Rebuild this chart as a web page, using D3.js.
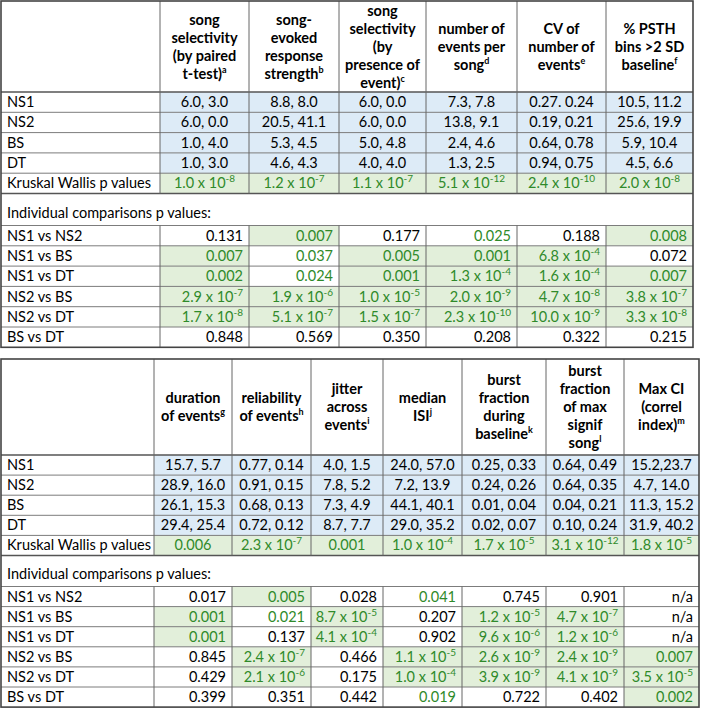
<!DOCTYPE html>
<html>
<head>
<meta charset="utf-8">
<title>Response properties tables</title>
<script src="https://cdn.jsdelivr.net/npm/d3@7"></script>
<style>
  body { margin: 0; background: #fff; }
  svg { display: block; font-family: Lato, "Open Sans", sans-serif; font-size: 14.5px; }
</style>
</head>
<body>
<svg id="chart" width="701" height="712"></svg>
<script>
// row labels
var groups = ["NS1", "NS2", "BS", "DT"];
var comparisons = ["NS1 vs NS2", "NS1 vs BS", "NS1 vs DT", "NS2 vs BS", "NS2 vs DT", "BS vs DT"];
var kwLabel = "Kruskal Wallis p values";
var indivLabel = "Individual comparisons p values:";

// --- first table ---
var headers1 = ["song|selectivity|(by paired|t-test)", "song-|evoked|response|strength",
  "song|selectivity|(by|presence of|event)", "number of|events per|song",
  "CV of|number of|events", "% PSTH|bins >2 SD|baseline"];
var notes1 = ["a", "b", "c", "d", "e", "f"];
var means1 = [
  ["6.0, 3.0", "8.8, 8.0", "6.0, 0.0", "7.3, 7.8", "0.27. 0.24", "10.5, 11.2"],
  ["6.0, 0.0", "20.5, 41.1", "6.0, 0.0", "13.8, 9.1", "0.19, 0.21", "25.6, 19.9"],
  ["1.0, 4.0", "5.3, 4.5", "5.0, 4.8", "2.4, 4.6", "0.64, 0.78", "5.9, 10.4"],
  ["1.0, 3.0", "4.6, 4.3", "4.0, 4.0", "1.3, 2.5", "0.94, 0.75", "4.5, 6.6"]
];
var kw1 = ["1.0e-8", "1.2e-7", "1.1e-7", "5.1e-12", "2.4e-10", "2.0e-8"];
var pairs1 = [
  ["0.131", "0.007", "0.177", "0.025", "0.188", "0.008"],
  ["0.007", "0.037", "0.005", "0.001", "6.8e-4", "0.072"],
  ["0.002", "0.024", "0.001", "1.3e-4", "1.6e-4", "0.007"],
  ["2.9e-7", "1.9e-6", "1.0e-5", "2.0e-9", "4.7e-8", "3.8e-7"],
  ["1.7e-8", "5.1e-7", "1.5e-7", "2.3e-10", "10.0e-9", "3.3e-8"],
  ["0.848", "0.569", "0.350", "0.208", "0.322", "0.215"]
];
// s = shaded significant, g = green text only
var sig1 = [
  ["", "s", "", "g", "", "s"],
  ["s", "g", "s", "s", "s", ""],
  ["s", "g", "s", "s", "s", "s"],
  ["s", "s", "s", "s", "s", "s"],
  ["s", "s", "s", "s", "s", "s"],
  ["", "", "", "", "", ""]
];

// --- second table ---
var headers2 = ["duration|of events", "reliability|of events", "jitter|across|events",
  "median|ISI", "burst|fraction|during|baseline", "burst|fraction|of max|signif|song",
  "Max CI|(correl|index)"];
var notes2 = ["g", "h", "i", "j", "k", "l", "m"];
var means2 = [
  ["15.7, 5.7", "0.77, 0.14", "4.0, 1.5", "24.0, 57.0", "0.25, 0.33", "0.64, 0.49", "15.2,23.7"],
  ["28.9, 16.0", "0.91, 0.15", "7.8, 5.2", "7.2, 13.9", "0.24, 0.26", "0.64, 0.35", "4.7, 14.0"],
  ["26.1, 15.3", "0.68, 0.13", "7.3, 4.9", "44.1, 40.1", "0.01, 0.04", "0.04, 0.21", "11.3, 15.2"],
  ["29.4, 25.4", "0.72, 0.12", "8.7, 7.7", "29.0, 35.2", "0.02, 0.07", "0.10, 0.24", "31.9, 40.2"]
];
var kw2 = ["0.006", "2.3e-7", "0.001", "1.0e-4", "1.7e-5", "3.1e-12", "1.8e-5"];
var pairs2 = [
  ["0.017", "0.005", "0.028", "0.041", "0.745", "0.901", "n/a"],
  ["0.001", "0.021", "8.7e-5", "0.207", "1.2e-5", "4.7e-7", "n/a"],
  ["0.001", "0.137", "4.1e-4", "0.902", "9.6e-6", "1.2e-6", "n/a"],
  ["0.845", "2.4e-7", "0.466", "1.1e-5", "2.6e-9", "2.4e-9", "0.007"],
  ["0.429", "2.1e-6", "0.175", "1.0e-4", "3.9e-9", "4.1e-9", "3.5e-5"],
  ["0.399", "0.351", "0.442", "0.019", "0.722", "0.402", "0.002"]
];
var sig2 = [
  ["", "s", "", "g", "", "", ""],
  ["s", "g", "s", "", "s", "s", ""],
  ["s", "", "s", "", "s", "s", ""],
  ["", "s", "", "s", "s", "s", "s"],
  ["", "s", "", "s", "s", "s", "s"],
  ["", "", "", "g", "", "", "s"]
];

var blue = "#ddebf7", greenBg = "#e2efda", greenTxt = "#2f8a2a";
var svg = d3.select("#chart");

// writes "1.0 x 10^-8" style values, plain strings otherwise
function pText(sel, v) {
  var m = v.split("e");
  if (m.length == 1) { sel.text(v); return; }
  sel.append("tspan").text(m[0] + " x 10");
  sel.append("tspan").attr("dy", -6).attr("font-size", 10).text(m[1]);
}

function drawTable(spec) {
  var g = svg.append("g");
  var nCol = spec.headers.length;
  var x = d3.scaleOrdinal(d3.range(nCol + 2), spec.edges);
  var left = spec.edges[0], right = spec.edges[nCol + 1];
  var headBot = spec.top + spec.headH;
  // row index -> top y (rows 0..4 upper block, 5..10 comparisons)
  var yUp = d3.scaleLinear().domain([0, 1]).range([headBot, headBot + spec.rowH]);
  var upBot = yUp(5);
  var gapBot = upBot + spec.gapH;
  var yLo = d3.scaleLinear().domain([0, 1]).range([gapBot, gapBot + spec.rowH]);
  var bottom = yLo(6);

  var upper = spec.means.map(function(r, i) { return {label: groups[i], vals: r, kind: "mean"}; });
  upper.push({label: kwLabel, vals: spec.kw, kind: "kw"});
  var lower = spec.pairs.map(function(r, i) { return {label: comparisons[i], vals: r, kind: "pair", sig: spec.sig[i]}; });

  var cells = [];
  upper.forEach(function(r, i) {
    r.vals.forEach(function(v, j) {
      cells.push({v: v, col: j, y: yUp(i), fill: r.kind == "mean" ? blue : greenBg,
        color: r.kind == "mean" ? "#000" : greenTxt, align: "middle"});
    });
  });
  lower.forEach(function(r, i) {
    r.vals.forEach(function(v, j) {
      var s = r.sig[j];
      cells.push({v: v, col: j, y: yLo(i), fill: s == "s" ? greenBg : "#fff",
        color: s ? greenTxt : "#000", align: "end"});
    });
  });

  g.selectAll("rect.cell").data(cells).enter().append("rect")
    .attr("class", "cell")
    .attr("x", function(d) { return x(d.col + 1); })
    .attr("y", function(d) { return d.y; })
    .attr("width", function(d) { return x(d.col + 2) - x(d.col + 1); })
    .attr("height", spec.rowH)
    .attr("fill", function(d) { return d.fill; });

  var txt = g.selectAll("text.val").data(cells).enter().append("text")
    .attr("class", "val")
    .attr("text-anchor", function(d) { return d.align; })
    .attr("x", function(d) {
      return d.align == "end" ? x(d.col + 2) - 6 : (x(d.col + 1) + x(d.col + 2)) / 2;
    })
    .attr("y", function(d) { return d.y + spec.rowH / 2 + 5; })
    .attr("fill", function(d) { return d.color; });
  txt.each(function(d) { pText(d3.select(this), d.v); });

  // row labels
  g.selectAll("text.lab").data(upper).enter().append("text")
    .attr("x", left + 6)
    .attr("y", function(d, i) { return yUp(i) + spec.rowH / 2 + 5; })
    .text(function(d) { return d.label; });
  g.selectAll("text.lab2").data(lower).enter().append("text")
    .attr("x", left + 6)
    .attr("y", function(d, i) { return yLo(i) + spec.rowH / 2 + 5; })
    .text(function(d) { return d.label; });
  g.append("text").attr("x", left + 6).attr("y", gapBot - 8).text(indivLabel);

  // headers
  var lineH = 18;
  spec.headers.forEach(function(h, j) {
    var lines = h.split("|");
    var cx = (x(j + 1) + x(j + 2)) / 2;
    var y0 = spec.top + spec.headH / 2 - (lines.length - 1) * lineH / 2 + 5;
    var t = g.append("text").attr("text-anchor", "middle").attr("font-weight", "bold");
    lines.forEach(function(l, k) {
      t.append("tspan").attr("x", cx).attr("y", y0 + k * lineH).text(l);
      if (k == lines.length - 1) {
        t.append("tspan").attr("dy", -6).attr("font-size", 9).text(spec.notes[j]);
      }
    });
  });

  // grid lines
  var hLines = [headBot];
  d3.range(1, 5).forEach(function(i) { hLines.push(yUp(i)); });
  hLines.push(upBot, gapBot);
  d3.range(1, 6).forEach(function(i) { hLines.push(yLo(i)); });
  g.selectAll("line.h").data(hLines).enter().append("line")
    .attr("x1", left).attr("x2", right)
    .attr("y1", function(d) { return d; }).attr("y2", function(d) { return d; })
    .attr("stroke", function(d, i) { return i == 0 || d == upBot ? "#555" : "#7c7c7c"; })
    .attr("stroke-width", function(d, i) { return i == 0 || d == upBot ? 1.4 : 1; });

  var vEdges = d3.range(1, nCol + 1).map(function(j) { return x(j); });
  [[spec.top, upBot], [gapBot, bottom]].forEach(function(seg) {
    g.selectAll(null).data(vEdges).enter().append("line")
      .attr("x1", function(d) { return d; }).attr("x2", function(d) { return d; })
      .attr("y1", seg[0]).attr("y2", seg[1])
      .attr("stroke", "#666").attr("stroke-width", 1);
  });

  g.append("rect")
    .attr("x", left).attr("y", spec.top)
    .attr("width", right - left).attr("height", bottom - spec.top)
    .attr("fill", "none").attr("stroke", "#444").attr("stroke-width", 1.6);
}

drawTable({headers: headers1, notes: notes1, means: means1, kw: kw1, pairs: pairs1, sig: sig1,
  edges: [1, 160, 249, 339, 426, 517, 606, 693], top: 1, headH: 91, rowH: 20.3, gapH: 32});
drawTable({headers: headers2, notes: notes2, means: means2, kw: kw2, pairs: pairs2, sig: sig2,
  edges: [1, 154, 232, 311, 383, 462, 546, 624, 699], top: 359, headH: 96, rowH: 20.1, gapH: 31});
</script>
</body>
</html>
